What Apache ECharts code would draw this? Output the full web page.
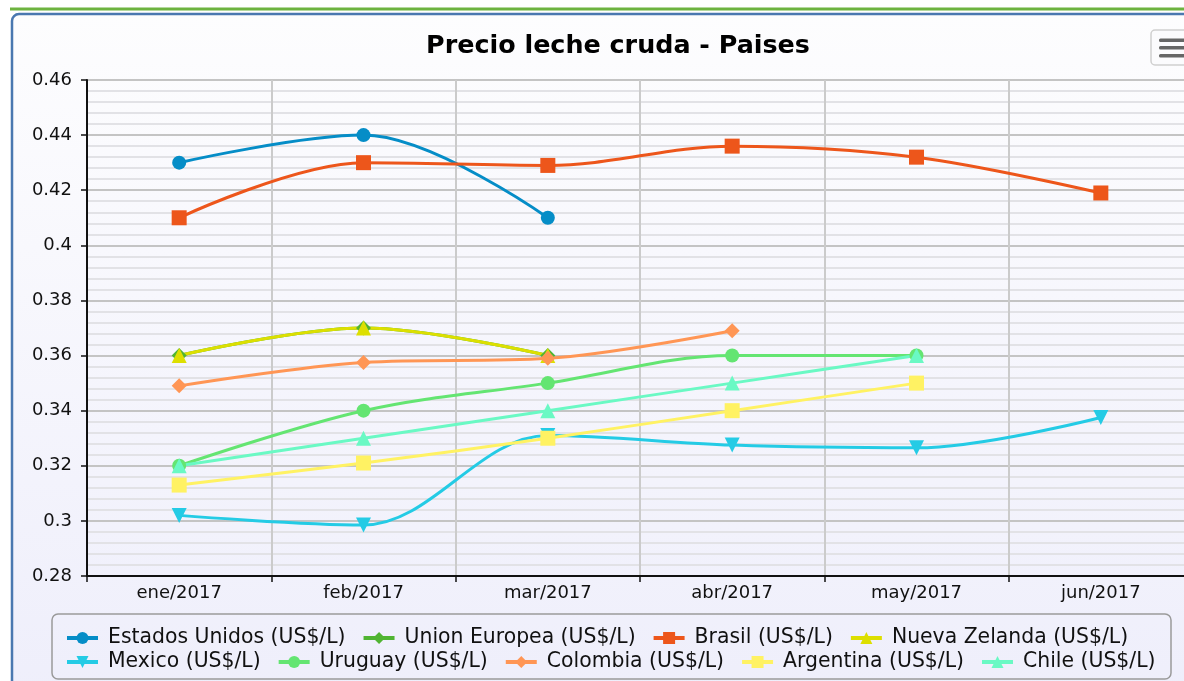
<!DOCTYPE html>
<html>
<head>
<meta charset="utf-8">
<script src="https://cdn.jsdelivr.net/npm/echarts@6/dist/echarts.min.js"></script>
<style>
  html, body { margin: 0; padding: 0; background: #fff; }
  #chart { width: 1184px; height: 681px; }
</style>
</head>
<body>
<div id="chart"></div>
<script>
// categorias (meses)
var meses = ['ene/2017', 'feb/2017', 'mar/2017', 'abr/2017', 'may/2017', 'jun/2017'];

// precios por pais (US$/L)
var estadosUnidos = [0.43, 0.44, 0.41];
var unionEuropea  = [0.36, 0.37, 0.36];
var brasil        = [0.41, 0.43, 0.429, 0.436, 0.432, 0.419];
var nuevaZelanda  = [0.36, 0.37, 0.36];
var mexico        = [0.302, 0.2985, 0.331, 0.3275, 0.3265, 0.3375];
var uruguay       = [0.32, 0.34, 0.35, 0.36, 0.36];
var colombia      = [0.349, 0.3575, 0.359, 0.369];
var argentina     = [0.313, 0.321, 0.33, 0.34, 0.35];
var chile         = [0.32, 0.33, 0.34, 0.35, 0.36];

var fila1 = ['Estados Unidos (US$/L)', 'Union Europea (US$/L)', 'Brasil (US$/L)', 'Nueva Zelanda (US$/L)'];
var fila2 = ['Mexico (US$/L)', 'Uruguay (US$/L)', 'Colombia (US$/L)', 'Argentina (US$/L)', 'Chile (US$/L)'];

var fuente = 'DejaVu Sans';

function serie(nombre, datos, color, simbolo, rot) {
    return {
        name: nombre,
        type: 'line',
        data: datos,
        smooth: 0.35,
        symbol: simbolo,
        symbolSize: simbolo == 'circle' ? 14 : 15,
        symbolRotate: rot || 0,
        showAllSymbol: true,
        lineStyle: {color: color, width: 3},
        itemStyle: {color: color},
        emphasis: {disabled: true}
    };
}

var miChart = echarts.init(document.getElementById('chart'));

var leyenda = function(datos, top) {
    return {
        data: datos, left: 65, top: top, padding: 0, itemGap: 16,
        itemWidth: 31, itemHeight: 15,
        lineStyle: {width: 4},
        textStyle: {fontFamily: fuente, fontSize: 20.4, color: '#111', padding: [0, 0, 0, 5]}
    };
};

var option = {
    backgroundColor: '#fff',
    animation: false,
    title: {
        text: 'Precio leche cruda - Paises',
        left: 613,
        top: 29,
        textAlign: 'center',
        textStyle: {fontFamily: fuente, fontSize: 25.4, fontWeight: 'bold', color: '#000'}
    },
    graphic: [
        // linea verde superior
        {type: 'rect', z: -20, silent: true, shape: {x: 10, y: 7.5, width: 1180, height: 3},
         style: {fill: '#6db33f'}},
        // panel del grafico
        {type: 'rect', z: -20, silent: true,
         shape: {x: 12, y: 14, width: 1200, height: 700, r: 7},
         style: {
             fill: new echarts.graphic.LinearGradient(0, 0, 0, 1, [
                 {offset: 0, color: '#fdfdfe'}, {offset: 1, color: '#eeeefb'}
             ]),
             stroke: '#4a78b0', lineWidth: 2.5
         }},
        // caja de la leyenda
        {type: 'rect', z: -10, silent: true,
         shape: {x: 52, y: 614, width: 1119, height: 65, r: 6},
         style: {fill: 'rgba(0,0,0,0)', stroke: '#9a9a9a', lineWidth: 1.5}},
        // boton menu
        {type: 'rect', z: -10, silent: true,
         shape: {x: 1151, y: 30, width: 60, height: 35, r: 4},
         style: {fill: '#fbfbfd', stroke: '#cfcfcf', lineWidth: 1.5}},
        {type: 'rect', z: -9, silent: true, shape: {x: 1159, y: 38.5, width: 40, height: 3.5, r: 1.5}, style: {fill: '#666'}},
        {type: 'rect', z: -9, silent: true, shape: {x: 1159, y: 46, width: 40, height: 3.5, r: 1.5}, style: {fill: '#666'}},
        {type: 'rect', z: -9, silent: true, shape: {x: 1159, y: 54, width: 40, height: 3.5, r: 1.5}, style: {fill: '#666'}}
    ],
    legend: [leyenda(fila1, 628), leyenda(fila2, 652)],
    grid: {left: 87, top: 80, width: 1106, height: 496, outerBoundsMode: 'none', containLabel: false},
    xAxis: {
        type: 'category',
        data: meses,
        boundaryGap: true,
        axisLine: {lineStyle: {color: '#111', width: 2}},
        axisTick: {show: true, length: 6, lineStyle: {color: '#111', width: 1.5}},
        axisLabel: {fontFamily: fuente, fontSize: 18, color: '#111', margin: 8},
        splitLine: {show: true, lineStyle: {color: '#cbcbcb', width: 2}}
    },
    yAxis: {
        type: 'value',
        min: 0.28,
        max: 0.46,
        interval: 0.02,
        axisLine: {show: true, lineStyle: {color: '#111', width: 2}},
        axisTick: {show: true, length: 6, lineStyle: {color: '#111', width: 1.5}},
        axisLabel: {fontFamily: fuente, fontSize: 18, color: '#111', margin: 15},
        splitLine: {show: true, lineStyle: {color: '#c4c4c4', width: 2}},
        minorTick: {show: false, splitNumber: 5},
        minorSplitLine: {show: true, lineStyle: {color: '#e2e2e6', width: 2}}
    },
    series: [
        serie(fila1[0], estadosUnidos, '#058DC7', 'circle'),
        serie(fila1[1], unionEuropea, '#50B432', 'diamond'),
        serie(fila1[2], brasil, '#ED561B', 'rect'),
        serie(fila1[3], nuevaZelanda, '#DDDF00', 'triangle'),
        serie(fila2[0], mexico, '#24CBE5', 'triangle', 180),
        serie(fila2[1], uruguay, '#64E572', 'circle'),
        serie(fila2[2], colombia, '#FF9655', 'diamond'),
        serie(fila2[3], argentina, '#FFF263', 'rect'),
        serie(fila2[4], chile, '#6AF9C4', 'triangle')
    ]
};

miChart.setOption(option);
</script>
</body>
</html>
